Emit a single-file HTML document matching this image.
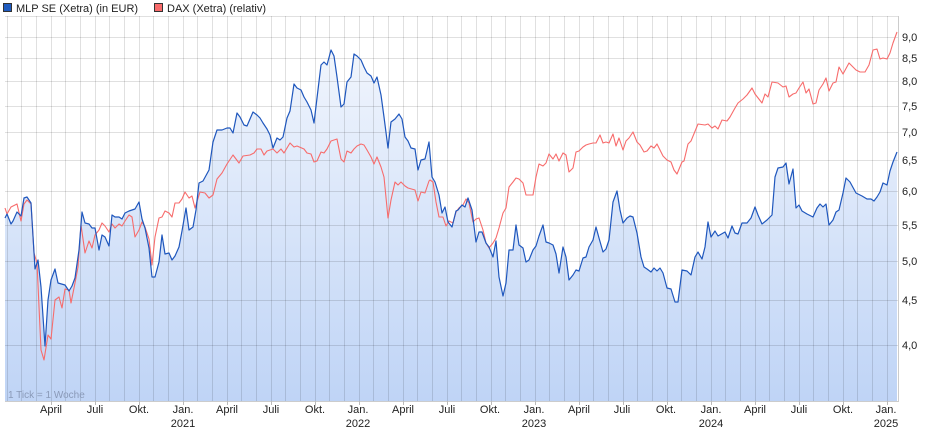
<!DOCTYPE html>
<html><head><meta charset="utf-8"><style>
body{margin:0;background:#fff;}
svg{display:block;font-family:"Liberation Sans",sans-serif;}
</style></head><body>
<svg width="940" height="435" viewBox="0 0 940 435">
<defs>
<linearGradient id="g" x1="0" y1="0" x2="0" y2="1" gradientUnits="userSpaceOnUse" y1b="0">
</linearGradient>
<linearGradient id="fg" gradientUnits="userSpaceOnUse" x1="0" y1="40" x2="0" y2="401">
<stop offset="0" stop-color="#f2f6fd"/><stop offset="1" stop-color="#bfd4f6"/>
</linearGradient>
</defs>
<rect x="0" y="0" width="940" height="435" fill="#fff"/>
<!-- legend -->
<rect x="3.5" y="3.5" width="8" height="8" fill="#1f5bbf" stroke="#333" stroke-width="1"/>
<text x="16" y="12" font-size="11" fill="#222">MLP SE (Xetra) (in EUR)</text>
<rect x="154.5" y="3.5" width="8" height="8" fill="#f86a6a" stroke="#333" stroke-width="1"/>
<text x="167" y="12" font-size="11" fill="#222">DAX (Xetra) (relativ)</text>
<!-- fill -->
<polygon fill="url(#fg)" points="5,401 5,218 7,214 11,224 13,221 17,212 21,216 24,198 27,197 31,203 35,269 38,260 41,287 45,346 48,300 51,280 55,269 58,283 65,285 69,291 72,286 75,278 79,250 82,212 85,223 89,224 92,228 95,228 99,250 102,235 105,237 109,246 112,215 115,217 119,217 122,219 125,213 129,211 135,209 139,202 142,219 145,228 149,248 152,277 155,277 159,262 162,235 165,254 169,253 172,260 175,256 179,247 182,231 186,208 189,230 193,227 196,210 199,183 203,181 209,170 213,142 217,130 222,130 227,128 230,128 233,133 237,113 240,117 244,125 247,126 250,119 253,112 257,115 260,118 263,123 267,129 270,135 273,148 277,138 280,140 283,137 287,118 290,111 294,84 297,88 301,90 304,97 307,102 311,110 314,123 317,98 321,65 324,62 327,65 331,50 334,56 337,77 341,107 344,104 347,82 351,77 354,54 357,56 361,60 364,67 367,73 371,76 374,83 377,77 381,95 384,117 388,148 391,122 395,119 399,114 402,119 405,137 408,141 411,148 415,149 418,170 421,160 425,159 429,142 432,177 435,182 439,195 442,213 445,207 448,222 452,227 456,211 458,210 462,205 465,207 468,198 472,210 476,242 479,232 482,232 486,243 489,247 493,257 496,241 499,277 503,296 506,283 509,250 513,250 516,225 519,245 523,248 526,262 529,260 533,250 536,246 539,236 543,225 546,242 549,243 553,245 556,254 559,273 563,247 566,257 569,280 573,275 576,270 579,271 583,258 586,257 589,247 593,240 596,227 599,238 603,252 606,249 609,240 613,202 617,191 620,210 623,223 627,218 630,216 633,217 637,233 641,257 644,267 647,269 651,272 654,268 657,271 660,268 663,273 667,288 671,289 675,302 678,302 682,270 687,271 691,275 695,257 698,252 702,259 705,247 708,222 711,237 715,231 718,236 725,232 728,238 732,226 735,233 738,234 742,223 747,223 751,218 755,207 758,215 762,224 767,220 772,215 775,177 778,168 783,167 786,163 789,184 793,169 796,208 799,205 802,211 807,214 813,217 817,208 820,204 823,207 826,204 829,225 833,220 836,212 839,210 843,193 846,178 850,182 856,193 862,196 867,199 871,199 874,201 877,197 880,192 883,183 887,185 890,171 893,162 897,152 897,401"/>
<!-- grid -->
<g stroke="#000" stroke-opacity="0.12" stroke-width="1">
<path d="M5,16.5H898M5,37.5H898M5,58.5H898M5,81.5H898M5,106.5H898M5,132.5H898M5,160.5H898M5,191.5H898M5,225.5H898M5,261.5H898M5,300.5H898M5,345.5H898"/>
<path d="M7.5,16V401M21.5,16V401M36.5,16V401M51.5,16V401M65.5,16V401M80.5,16V401M95.5,16V401M109.5,16V401M124.5,16V401M139.5,16V401M153.5,16V401M168.5,16V401M183.5,16V401M197.5,16V401M212.5,16V401M227.5,16V401M241.5,16V401M256.5,16V401M271.5,16V401M285.5,16V401M300.5,16V401M315.5,16V401M329.5,16V401M344.5,16V401M359.5,16V401M373.5,16V401M388.5,16V401M403.5,16V401M417.5,16V401M432.5,16V401M447.5,16V401M461.5,16V401M476.5,16V401M491.5,16V401M505.5,16V401M520.5,16V401M535.5,16V401M549.5,16V401M564.5,16V401M579.5,16V401M593.5,16V401M608.5,16V401M623.5,16V401M637.5,16V401M652.5,16V401M667.5,16V401M681.5,16V401M696.5,16V401M711.5,16V401M725.5,16V401M740.5,16V401M755.5,16V401M769.5,16V401M784.5,16V401M799.5,16V401M813.5,16V401M828.5,16V401M843.5,16V401M857.5,16V401M872.5,16V401M887.5,16V401"/>
</g>
<!-- axes -->
<path d="M898.5,16V401.5H5" stroke="#ccc" fill="none"/>
<g stroke="#bbb"><path d="M51.5,401v4M95.5,401v4M139.5,401v4M183.5,401v4M227.5,401v4M271.5,401v4M315.5,401v4M359.5,401v4M403.5,401v4M447.5,401v4M491.5,401v4M535.5,401v4M579.5,401v4M623.5,401v4M667.5,401v4M711.5,401v4M755.5,401v4M799.5,401v4M843.5,401v4M887.5,401v4"/></g>
<!-- DAX -->
<polyline fill="none" stroke="#f76c6c" stroke-width="1.1" stroke-linejoin="round" points="5,208 7,214 11,207 17,204 21,221 24,204 27,200 31,204 34,253 37,263 41,350 44,360 48,335 51,339 55,300 59,297 62,308 65,289 69,290 71,303 75,283 78,267 81,225 85,253 89,241 92,248 95,235 99,230 102,223 105,226 109,232 112,224 115,228 119,224 122,226 125,221 129,215 132,217 135,237 139,230 142,222 145,227 149,239 152,265 155,237 159,218 162,217 165,211 169,213 172,217 175,203 179,203 182,199 185,192 189,198 192,196 195,208 200,192 205,193 209,198 213,195 217,179 222,173 227,164 233,155 239,163 243,156 250,155 254,153 257,149 261,149 264,155 267,151 273,149 277,153 281,149 284,153 290,143 294,147 297,146 304,149 307,153 311,154 314,162 317,161 321,152 324,153 327,149 331,141 334,140 337,139 341,159 344,162 347,151 351,153 354,149 357,146 361,144 364,145 367,150 371,157 374,164 377,157 381,167 384,177 388,218 391,200 395,182 398,185 401,182 405,186 408,188 415,190 418,201 421,192 425,193 429,181 430,180 433,182 436,202 439,217 443,217 446,226 449,221 453,223 456,212 459,208 463,205 466,199 469,203 473,222 476,219 479,218 483,230 486,243 489,248 493,243 496,238 499,228 503,213 506,208 509,187 513,182 516,178 519,179 523,183 526,195 533,195 536,177 539,164 543,166 546,163 549,154 553,159 556,154 559,161 563,153 566,155 569,172 573,168 576,152 579,151 583,147 586,145 589,144 593,143 596,143 600,135 603,143 606,142 609,143 613,134 616,146 619,138 623,150 626,141 629,138 633,132 637,142 640,145 644,152 647,151 651,146 654,148 657,144 660,150 663,156 667,160 671,162 674,170 677,174 682,162 684,161 688,144 691,141 698,124 705,125 708,124 712,128 715,126 718,129 722,120 727,121 730,117 735,108 738,103 743,99 747,95 752,88 755,94 762,103 765,94 768,97 772,82 778,83 783,87 786,86 789,97 793,94 796,93 799,88 803,82 806,93 809,89 813,104 816,103 819,90 823,84 826,78 829,91 833,83 836,82 839,67 843,74 849,63 856,70 860,72 865,72 869,65 873,50 877,49 880,59 883,58 887,59 890,53 893,43 897,32"/>
<!-- MLP -->
<polyline fill="none" stroke="#1f57bd" stroke-width="1.2" stroke-linejoin="round" points="5,218 7,214 11,224 13,221 17,212 21,216 24,198 27,197 31,203 35,269 38,260 41,287 45,346 48,300 51,280 55,269 58,283 65,285 69,291 72,286 75,278 79,250 82,212 85,223 89,224 92,228 95,228 99,250 102,235 105,237 109,246 112,215 115,217 119,217 122,219 125,213 129,211 135,209 139,202 142,219 145,228 149,248 152,277 155,277 159,262 162,235 165,254 169,253 172,260 175,256 179,247 182,231 186,208 189,230 193,227 196,210 199,183 203,181 209,170 213,142 217,130 222,130 227,128 230,128 233,133 237,113 240,117 244,125 247,126 250,119 253,112 257,115 260,118 263,123 267,129 270,135 273,148 277,138 280,140 283,137 287,118 290,111 294,84 297,88 301,90 304,97 307,102 311,110 314,123 317,98 321,65 324,62 327,65 331,50 334,56 337,77 341,107 344,104 347,82 351,77 354,54 357,56 361,60 364,67 367,73 371,76 374,83 377,77 381,95 384,117 388,148 391,122 395,119 399,114 402,119 405,137 408,141 411,148 415,149 418,170 421,160 425,159 429,142 432,177 435,182 439,195 442,213 445,207 448,222 452,227 456,211 458,210 462,205 465,207 468,198 472,210 476,242 479,232 482,232 486,243 489,247 493,257 496,241 499,277 503,296 506,283 509,250 513,250 516,225 519,245 523,248 526,262 529,260 533,250 536,246 539,236 543,225 546,242 549,243 553,245 556,254 559,273 563,247 566,257 569,280 573,275 576,270 579,271 583,258 586,257 589,247 593,240 596,227 599,238 603,252 606,249 609,240 613,202 617,191 620,210 623,223 627,218 630,216 633,217 637,233 641,257 644,267 647,269 651,272 654,268 657,271 660,268 663,273 667,288 671,289 675,302 678,302 682,270 687,271 691,275 695,257 698,252 702,259 705,247 708,222 711,237 715,231 718,236 725,232 728,238 732,226 735,233 738,234 742,223 747,223 751,218 755,207 758,215 762,224 767,220 772,215 775,177 778,168 783,167 786,163 789,184 793,169 796,208 799,205 802,211 807,214 813,217 817,208 820,204 823,207 826,204 829,225 833,220 836,212 839,210 843,193 846,178 850,182 856,193 862,196 867,199 871,199 874,201 877,197 880,192 883,183 887,185 890,171 893,162 897,152"/>
<!-- y labels -->
<g font-size="11" fill="#222">
<text x="902" y="41">9,0</text><text x="902" y="62">8,5</text><text x="902" y="85">8,0</text><text x="902" y="110">7,5</text><text x="902" y="136">7,0</text><text x="902" y="164">6,5</text><text x="902" y="195">6,0</text><text x="902" y="229">5,5</text><text x="902" y="265">5,0</text><text x="902" y="304">4,5</text><text x="902" y="349">4,0</text>
</g>
<!-- x labels -->
<g font-size="11" fill="#222" text-anchor="middle">
<text x="51" y="413">April</text><text x="95" y="413">Juli</text><text x="139" y="413">Okt.</text>
<text x="183" y="413">Jan.</text><text x="183" y="427">2021</text>
<text x="227" y="413">April</text><text x="271" y="413">Juli</text><text x="315" y="413">Okt.</text>
<text x="358" y="413">Jan.</text><text x="358" y="427">2022</text>
<text x="403" y="413">April</text><text x="447" y="413">Juli</text><text x="490" y="413">Okt.</text>
<text x="534" y="413">Jan.</text><text x="534" y="427">2023</text>
<text x="579" y="413">April</text><text x="622" y="413">Juli</text><text x="666" y="413">Okt.</text>
<text x="711" y="413">Jan.</text><text x="711" y="427">2024</text>
<text x="755" y="413">April</text><text x="799" y="413">Juli</text><text x="843" y="413">Okt.</text>
<text x="886" y="413">Jan.</text><text x="886" y="427">2025</text>
</g>
<text x="8" y="398" font-size="10" fill="#8a9ab8">1 Tick = 1 Woche</text>
</svg>
</body></html>
